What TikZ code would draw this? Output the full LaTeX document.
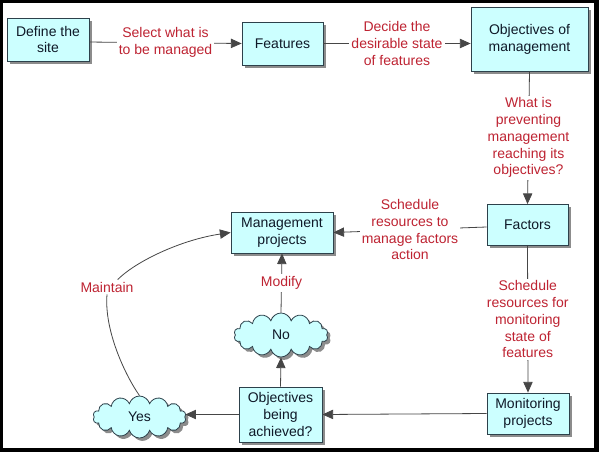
\documentclass[tikz,border=0pt]{standalone}
\usepackage{fontspec}
\setmainfont{Liberation Sans}
\usetikzlibrary{shapes.symbols,shadows,arrows.meta}
\definecolor{boxfill}{RGB}{204,255,255}
\definecolor{boxdraw}{RGB}{45,65,75}
\definecolor{lblred}{RGB}{190,35,50}
\definecolor{linegray}{RGB}{70,70,70}
\definecolor{txtdark}{RGB}{15,25,40}
\begin{document}
\begin{tikzpicture}[x=0.75pt,y=-0.75pt,
  txt/.style={font=\fontsize{10.5}{12.6}\selectfont, align=center},
  box/.style={txt, draw=boxdraw, fill=boxfill, line width=0.6pt, text=txtdark, inner sep=1pt,
    drop shadow={shadow xshift=2.2pt, shadow yshift=-2.2pt, opacity=1, fill=black!45}},
  cloudbox/.style={box, cloud, cloud puffs=14, cloud puff arc=150, aspect=2.2},
  lbl/.style={txt, text=lblred, fill=white, inner sep=1.5pt},
  conn/.style={draw=linegray, line width=0.6pt},
  arr/.style={conn, -{Triangle[length=8pt,width=7pt]}}
]
\useasboundingbox (0,0) rectangle (599,452);
\fill[black] (0,0) rectangle (599,452);
\fill[white] (3,3) rectangle (594,448);

\node[box, minimum width=82*0.75pt, minimum height=43*0.75pt] (define) at (48,39.5) {Define the\\site};
\node[box, minimum width=81*0.75pt, minimum height=43*0.75pt] (features) at (282.5,43.5) {Features};
\node[box, minimum width=117*0.75pt, minimum height=64*0.75pt] (objectives) at (529.5,39) {Objectives of\\management};
\node[box, minimum width=81*0.75pt, minimum height=41*0.75pt] (factors) at (527.5,225) {Factors};
\node[box, minimum width=102*0.75pt, minimum height=41*0.75pt] (mgmt) at (282,232.5) {Management\\projects};
\node[box, minimum width=82*0.75pt, minimum height=41*0.75pt] (monitoring) at (528,413.5) {Monitoring\\projects};
\node[box, minimum width=83*0.75pt, minimum height=55*0.75pt] (achieved) at (280.5,414.5) {Objectives\\being\\achieved?};
\node[cloudbox, minimum width=93*0.75pt, minimum height=42*0.75pt] (yes) at (139.5,417) {Yes};
\node[cloudbox, minimum width=94*0.75pt, minimum height=44*0.75pt] (no) at (281,335) {No};

\draw[arr] ([yshift=-1.9pt]define.east) -- node[lbl]{Select what is\\to be managed} (features.west);
\draw[arr] (features.east) -- node[lbl]{Decide the\\desirable state\\of features} (objectives.west |- features.east);
\draw[arr] (objectives.south) -- node[lbl]{What is\\preventing\\management\\reaching its\\objectives?} (factors.north);
\draw[arr] ([yshift=-1.5pt]factors.west) -- node[lbl]{Schedule\\resources to\\manage factors\\action} (mgmt.east);
\draw[arr] (factors.south) -- node[lbl]{Schedule\\resources for\\monitoring\\state of\\features} (monitoring.north);
\draw[arr] (monitoring.west) -- (achieved.east);
\draw[arr] (achieved.west) -- (achieved.west -| yes.east);
\draw[arr] (achieved.north) -- (no.south);
\draw[arr] (no.north) -- node[lbl]{Modify} (mgmt.south);

\node[lbl] (maintain) at (107,287) {Maintain};
\draw[conn] (yes.north) .. controls (125,375) and (104,330) .. (maintain.south);
\draw[arr] ([xshift=8pt]maintain.north) .. controls (135,262) and (180,240) .. (mgmt.west);
\end{tikzpicture}
\end{document}
